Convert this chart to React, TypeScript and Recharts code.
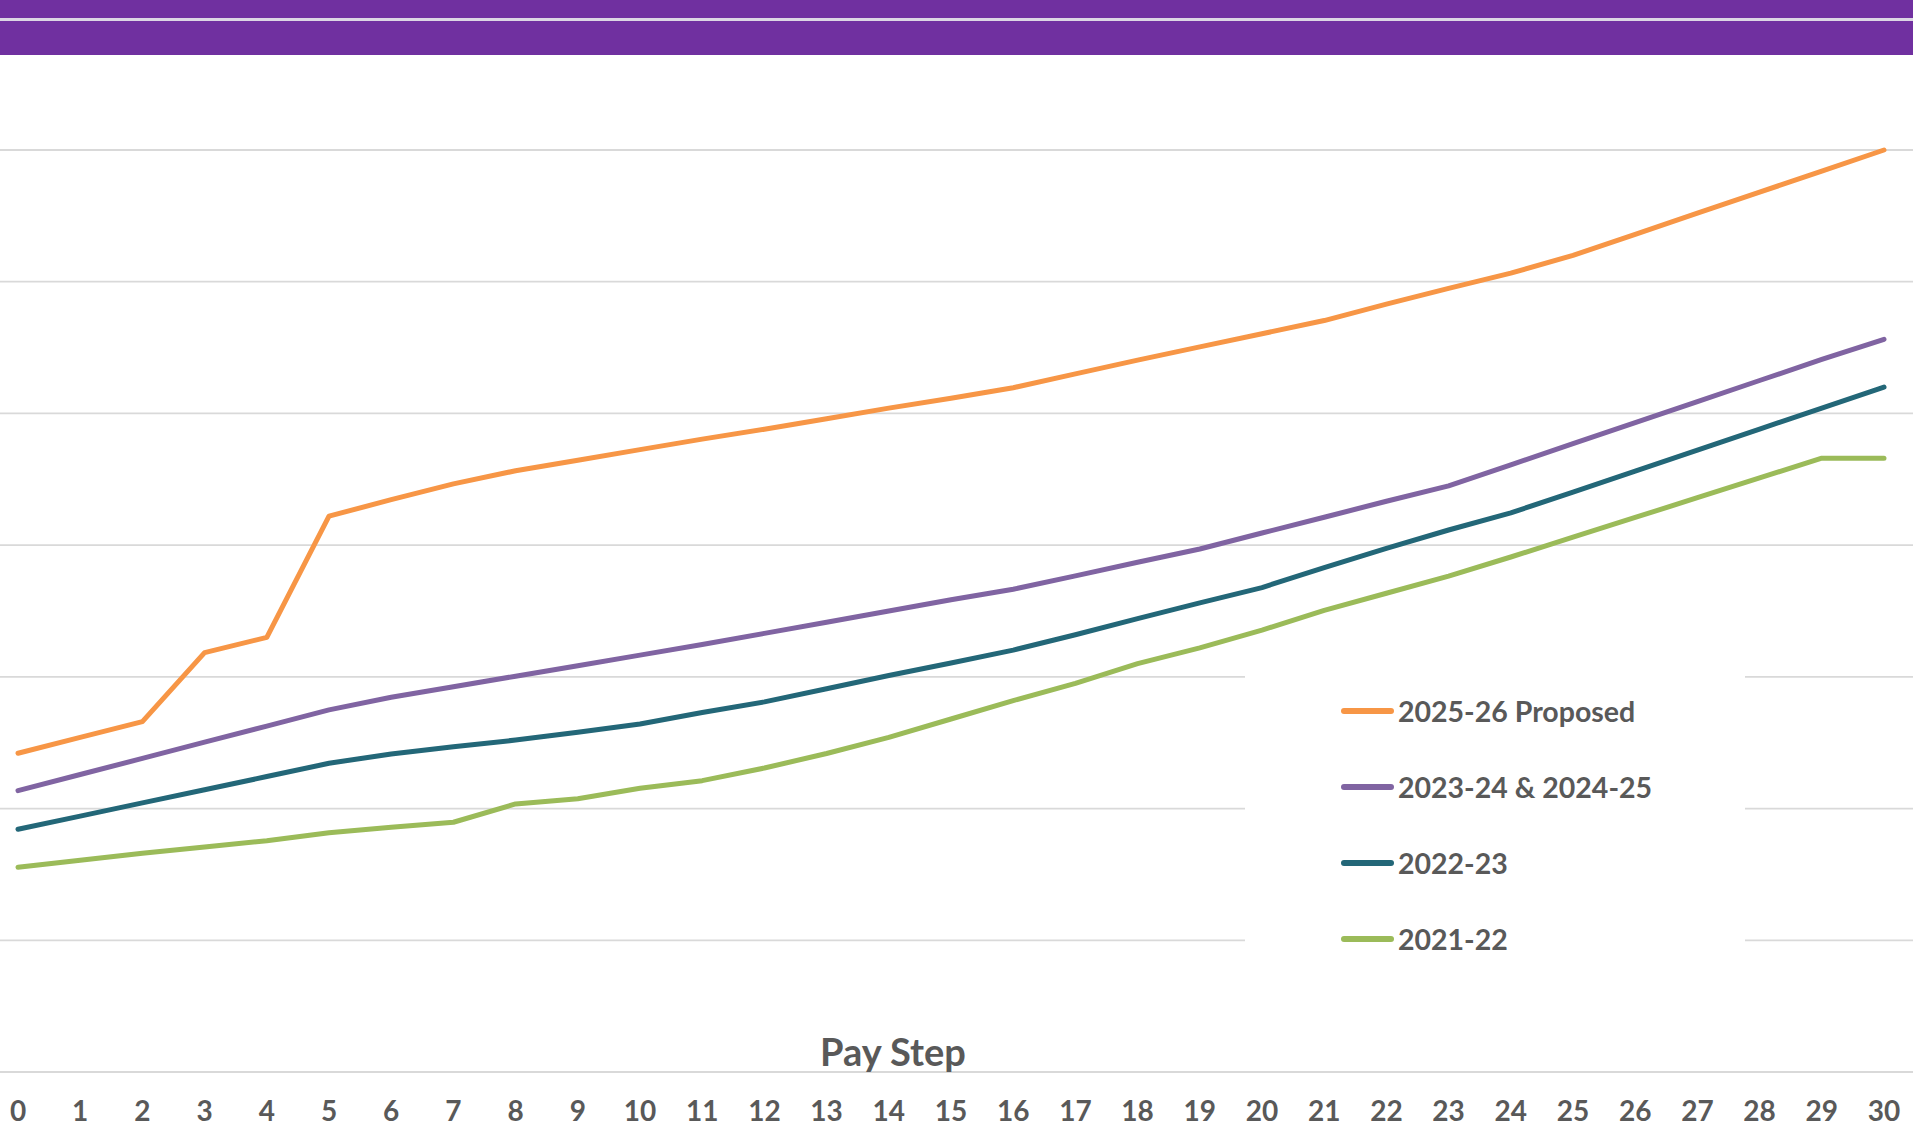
import React from 'react';
import { LineChart, Line, XAxis, YAxis, CartesianGrid, Legend, Label } from 'recharts';

const steps = [0, 1, 2, 3, 4, 5, 6, 7, 8, 9, 10, 11, 12, 13, 14, 15, 16, 17, 18, 19, 20, 21, 22, 23, 24, 25, 26, 27, 28, 29, 30];

const proposed2526 = [64200, 65400, 66600, 71840, 73000, 82200, 83450, 84650, 85650, 86450, 87250, 88050, 88800, 89600, 90400, 91150, 91950, 93000, 94050, 95050, 96050, 97050, 98300, 99500, 100650, 102000, 103600, 105200, 106800, 108400, 110000];
const sched2324_2425 = [61360, 62590, 63810, 65040, 66260, 67490, 68450, 69250, 70050, 70850, 71650, 72450, 73300, 74150, 75000, 75850, 76650, 77670, 78700, 79710, 80920, 82120, 83330, 84500, 86100, 87700, 89300, 90900, 92500, 94100, 95630];
const sched2223 = [58430, 59430, 60430, 61430, 62430, 63440, 64150, 64700, 65200, 65800, 66420, 67300, 68100, 69100, 70100, 71050, 72030, 73200, 74420, 75620, 76780, 78300, 79750, 81150, 82450, 84020, 85620, 87210, 88810, 90400, 92000];
const sched2122 = [55540, 56070, 56600, 57080, 57560, 58170, 58580, 58960, 60350, 60750, 61540, 62120, 63080, 64180, 65400, 66800, 68200, 69500, 71000, 72200, 73550, 75050, 76350, 77650, 79100, 80600, 82100, 83600, 85100, 86600, 86600];

const seriesNames = ['2025-26 Proposed', '2023-24 & 2024-25', '2022-23', '2021-22'];
const seriesKeys = ['p2526', 's2324', 's2223', 's2122'];
const seriesColors = ['#F79646', '#8064A2', '#236778', '#9BBB59'];
const yTicks = [40000, 50000, 60000, 70000, 80000, 90000, 100000, 110000];
const xLabel = 'Pay Step';

const data = steps.map((s, i) => ({
  step: s,
  p2526: proposed2526[i],
  s2324: sched2324_2425[i],
  s2223: sched2223[i],
  s2122: sched2122[i],
}));

const FONT = 'Lato, "Open Sans", sans-serif';
const TEXT = '#595959';

const renderLegend = (props: any) => {
  const payload = [...(props.payload || [])].sort(
    (a: any, b: any) => seriesNames.indexOf(a.value) - seriesNames.indexOf(b.value)
  );
  return (
    <div style={{ position: 'relative', width: 500, height: 330 }}>
      {payload.map((entry: any, i: number) => (
        <div
          key={entry.value}
          style={{
            position: 'absolute',
            left: 96,
            top: 23 + 76 * i,
            height: 76,
            display: 'flex',
            alignItems: 'center',
            whiteSpace: 'nowrap',
          }}
        >
          <div style={{ width: 53, height: 5.5, borderRadius: 3, background: entry.color }} />
          <span style={{ marginLeft: 4, fontSize: 28.5, fontWeight: 700, color: TEXT, fontFamily: FONT, lineHeight: '30px' }}>
            {entry.value}
          </span>
        </div>
      ))}
    </div>
  );
};

export default function App() {
  return (
    <div style={{ position: 'absolute', left: 0, top: 0, width: 1913, height: 1127, background: '#fff', fontFamily: FONT, overflow: 'hidden' }}>
      <LineChart width={1913} height={1127} data={data} margin={{ top: 150, right: 0, bottom: 0, left: 0 }}>
        <CartesianGrid vertical={false} stroke="#D9D9D9" strokeWidth={1.8} />
        <XAxis
          dataKey="step"
          type="number"
          domain={[0, 30]}
          ticks={steps}
          interval={0}
          padding={{ left: 18, right: 29 }}
          height={55}
          axisLine={false}
          tickLine={false}
          tickSize={0}
          tickMargin={29}
          tick={{ fill: TEXT, fontSize: 28, fontWeight: 700, fontFamily: FONT }}
        >
          <Label
            content={() => (
              <text x={893} y={1066} textAnchor="middle" fontSize={38} fontWeight={700} fill={TEXT} fontFamily={FONT}>
                {xLabel}
              </text>
            )}
          />
        </XAxis>
        <YAxis
          width={0}
          type="number"
          domain={[40000, 110000]}
          ticks={yTicks}
          interval={0}
          tick={{ fontSize: 0, fill: 'none' }}
          axisLine={false}
          tickLine={false}
          tickSize={0}
        />
        <Legend
          layout="horizontal"
          verticalAlign="middle"
          align="center"
          content={renderLegend}
          wrapperStyle={{ left: 1245, top: 650, width: 500, height: 330, background: '#fff' }}
        />
        {seriesKeys.map((k, i) => (
          <Line
            key={k}
            dataKey={k}
            name={seriesNames[i]}
            stroke={seriesColors[i]}
            strokeWidth={5}
            strokeLinecap="round"
            strokeLinejoin="round"
            dot={false}
            activeDot={false}
            type="linear"
            isAnimationActive={false}
          />
        ))}
      </LineChart>
      <div style={{ position: 'absolute', left: 0, top: 0, width: 1913, height: 18, background: '#7030A0' }} />
      <div style={{ position: 'absolute', left: 0, top: 18, width: 1913, height: 2.5, background: '#DCD6E4' }} />
      <div style={{ position: 'absolute', left: 0, top: 20.5, width: 1913, height: 34.5, background: '#7030A0' }} />
    </div>
  );
}
